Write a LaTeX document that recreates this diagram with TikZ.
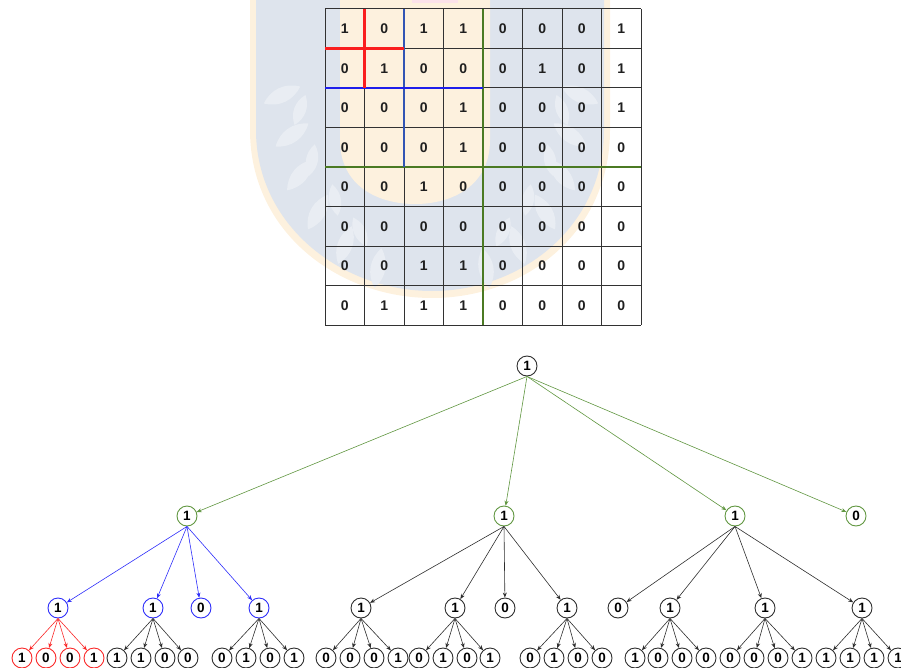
\documentclass[tikz,border=0pt]{standalone}
\usepackage{fontspec}
\setmainfont{Liberation Sans}
\usetikzlibrary{arrows.meta}

\definecolor{peach}{RGB}{253,241,222}
\definecolor{shieldblue}{RGB}{222,228,237}
\definecolor{leafwhite}{RGB}{233,237,243}
\definecolor{crestpink}{RGB}{251,226,234}
\definecolor{gridgray}{RGB}{50,50,50}
\definecolor{cutred}{RGB}{250,30,30}
\definecolor{cutblue}{RGB}{30,30,235}
\definecolor{cutblueb}{RGB}{50,85,180}
\definecolor{cutgreen}{RGB}{75,122,35}
\definecolor{treegreen}{RGB}{96,150,64}
\definecolor{treeblue}{RGB}{45,45,250}
\definecolor{treered}{RGB}{250,40,40}
\definecolor{treedark}{RGB}{45,45,45}

\tikzset{
  cellnum/.style={inner sep=0pt, font=\bfseries\fontsize{14}{16}\selectfont, text=black!88},
  gridline/.style={draw=gridgray, line width=1pt},
  cutline/.style={line width=2.3pt},
  tnode/.style={circle, draw=treedark, line width=0.9pt, minimum size=20pt, inner sep=0pt,
                font=\bfseries\fontsize{13.5}{15}\selectfont},
  gnode/.style={tnode, draw=treegreen},
  bnode/.style={tnode, draw=treeblue},
  rnode/.style={tnode, draw=treered},
  edge/.style={line width=0.6pt, -{Stealth[length=5pt,width=4pt]}},
  gedge/.style={edge, draw=treegreen},
  bedge/.style={edge, draw=treeblue},
  redge/.style={edge, draw=treered},
  kedge/.style={edge, draw=treedark},
  leaf/.style={fill=leafwhite, draw=none}
}

\begin{document}
\begin{tikzpicture}[x=1pt, y=-1pt]
\useasboundingbox (0,0) rectangle (901,668);

% faint crest behind the matrix
\fill[peach] (250,0) -- (250,130) .. controls (250,232) and (338,298) .. (432,298)
  .. controls (526,298) and (610,232) .. (610,130) -- (610,0) -- cycle;
\fill[shieldblue] (256,0) -- (256,130) .. controls (256,225) and (341,291) .. (432,291)
  .. controls (523,291) and (604,225) .. (604,130) -- (604,0) -- cycle;
% laurel leaves
\foreach \x/\y/\a in {282/95/-65, 292/135/-55, 300/175/-40, 318/212/-30, 345/245/-20, 378/268/-10,
                      580/95/65, 570/135/55, 562/175/40, 545/212/30, 518/245/20, 486/268/10}
  \fill[leaf, rotate around={\a:(\x,\y)}] (\x,\y-20) .. controls (\x+10,\y-8) and (\x+10,\y+8) .. (\x,\y+20)
     .. controls (\x-10,\y+8) and (\x-10,\y-8) .. (\x,\y-20) -- cycle;
\foreach \x/\y/\a in {300/110/-20, 312/160/-10, 335/200/10, 360/232/25,
                      562/110/20, 550/160/10, 528/200/-10, 503/232/-25}
  \fill[leaf, rotate around={\a:(\x,\y)}] (\x,\y-16) .. controls (\x+8,\y-6) and (\x+8,\y+6) .. (\x,\y+16)
     .. controls (\x-8,\y+6) and (\x-8,\y-6) .. (\x,\y-16) -- cycle;
% torch
\fill[peach] (340,0) -- (340,140) .. controls (340,186) and (378,204) .. (415,204)
  .. controls (452,204) and (490,186) .. (490,140) -- (490,0) -- cycle;
\fill[crestpink] (412,0) rectangle (458,3);

% matrix grid
\foreach \i in {0,...,8} {
  \draw[gridline] ({325+39.5*\i},9) -- ({325+39.5*\i},325);
  \draw[gridline] (325,{9+39.5*\i}) -- (641,{9+39.5*\i});
}

% matrix entries
\foreach \row [count=\r from 0] in {{1,0,1,1,0,0,0,1},{0,1,0,0,0,1,0,1},{0,0,0,1,0,0,0,1},
    {0,0,0,1,0,0,0,0},{0,0,1,0,0,0,0,0},{0,0,0,0,0,0,0,0},{0,0,1,1,0,0,0,0},{0,1,1,1,0,0,0,0}} {
  \foreach \v [count=\c from 0] in \row
    \node[cellnum] (m\r\c) at ({344.75+39.5*\c},{28.75+39.5*\r}) {\v};
}

% quadrant cuts
\draw[cutline, cutgreen] (483,9) -- (483,325);
\draw[cutline, cutgreen] (325,167.0) -- (641,167.0);
\draw[cutline, cutblueb] (404,9) -- (404,167);
\draw[cutline, cutblue] (325,88) -- (483,88);
\draw[cutline, cutred] (364.5,9) -- (364.5,88);
\draw[cutline, cutred] (325,48.5) -- (404,48.5);

% tree: root
\node[tnode] (r) at (527,366) {1};

% level 1
\node[gnode] (a) at (187,516) {1};
\node[gnode] (b) at (504,516) {1};
\node[gnode] (c) at (735,516) {1};
\node[gnode] (d) at (856,516) {0};
\foreach \n in {a,b,c,d} \draw[gedge] (r.south) -- (\n);

% level 2
\node[bnode] (a1) at (58,608) {1};
\node[bnode] (a2) at (153,608) {1};
\node[bnode] (a3) at (201,608) {0};
\node[bnode] (a4) at (259,608) {1};
\foreach \n in {a1,a2,a3,a4} \draw[bedge] (a.south) -- (\n);

\node[tnode] (b1) at (361,608) {1};
\node[tnode] (b2) at (455,608) {1};
\node[tnode] (b3) at (505,608) {0};
\node[tnode] (b4) at (567,608) {1};
\foreach \n in {b1,b2,b3,b4} \draw[kedge] (b.south) -- (\n);

\node[tnode] (c1) at (618,608) {0};
\node[tnode] (c2) at (670,608) {1};
\node[tnode] (c3) at (765,608) {1};
\node[tnode] (c4) at (862,608) {1};
\foreach \n in {c1,c2,c3,c4} \draw[kedge] (c.south) -- (\n);

% level 3
\foreach \x/\v [count=\k] in {22/1,46/0,70/0,94/1} {
  \node[rnode] (a1\k) at (\x,658) {\v};
  \draw[redge] (a1.south) -- (a1\k);
}
\foreach \p/\kids in {a2/{117/1,141/1,165/0,188/0},
                      a4/{222/0,246/1,270/0,294/1},
                      b1/{326/0,350/0,374/0,398/1},
                      b2/{419/0,443/1,467/0,490/1},
                      b4/{530/0,554/1,578/0,602/0},
                      c2/{635/1,658/0,682/0,706/0},
                      c3/{730/0,754/0,778/0,802/1},
                      c4/{826/1,850/1,874/1,898/1}} {
  \foreach \x/\v [count=\k] in \kids {
    \node[tnode] (\p\k) at (\x,658) {\v};
    \draw[kedge] (\p.south) -- (\p\k);
  }
}
\end{tikzpicture}
\end{document}
